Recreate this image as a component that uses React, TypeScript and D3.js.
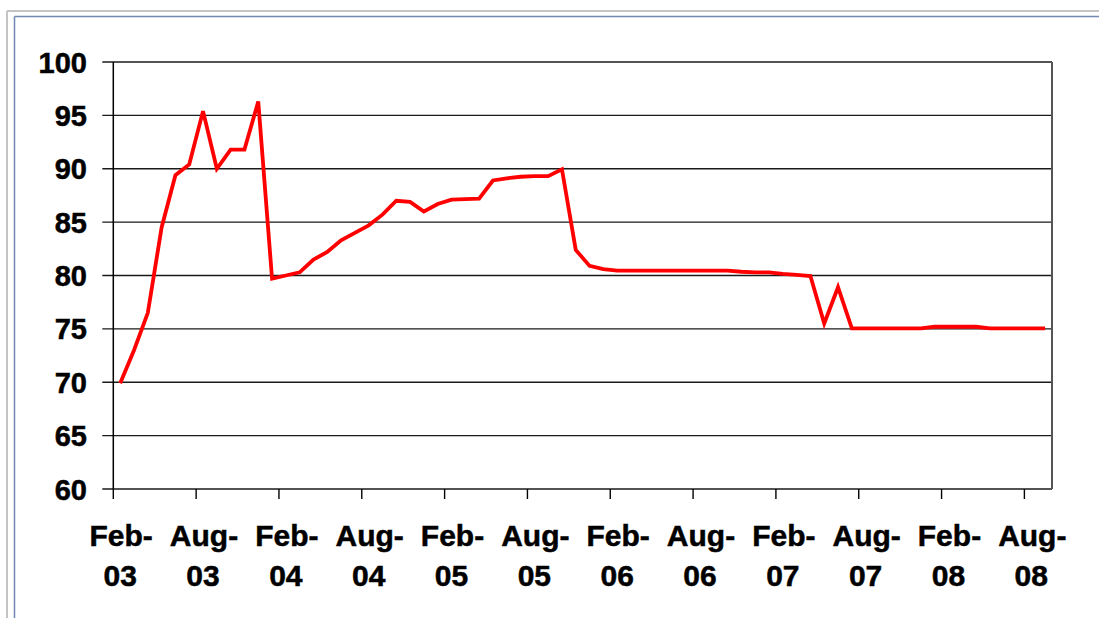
import React from "react";
import * as d3 from "d3";

const categories: string[] = d3
  .timeMonth.range(new Date(2003, 1, 1), new Date(2008, 9, 1))
  .map((d) => d3.timeFormat("%b-%y")(d));

const values: number[] = [
  69.9, 73.0, 76.5, 84.5, 89.4, 90.4, 95.4, 90.0, 91.8, 91.8, 96.3, 79.7,
  80.0, 80.3, 81.5, 82.2, 83.3, 84.0, 84.7, 85.7, 87.0, 86.9, 86.0, 86.7,
  87.1, 87.15, 87.2, 88.9, 89.1, 89.25, 89.3, 89.3, 89.95, 82.4, 80.9, 80.6,
  80.45, 80.45, 80.45, 80.45, 80.45, 80.45, 80.45, 80.45, 80.45, 80.35, 80.3, 80.3,
  80.15, 80.05, 79.95, 75.5, 78.9, 75.05, 75.05, 75.05, 75.05, 75.05, 75.05, 75.2,
  75.2, 75.2, 75.2, 75.05, 75.05, 75.05, 75.05, 75.05,
];

const yTicks: number[] = [60, 65, 70, 75, 80, 85, 90, 95, 100];
const xTickLabels: string[] = [
  "Feb-03", "Aug-03", "Feb-04", "Aug-04", "Feb-05", "Aug-05",
  "Feb-06", "Aug-06", "Feb-07", "Aug-07", "Feb-08", "Aug-08",
];

export default function App() {
  const W = 1099;
  const H = 618;
  const left = 113.3;
  const right = 1052;
  const top = 62;
  const bottom = 489;

  const x = d3.scaleBand<string>().domain(categories).range([left, right]).padding(0);
  const bw = x.bandwidth();
  const y = d3.scaleLinear().domain([60, 100]).range([bottom, top]);

  const line = d3
    .line<number>()
    .x((_, i) => (x(categories[i]) as number) + bw / 2)
    .y((d) => y(d));

  const font = "'Liberation Sans', Arial, sans-serif";

  return (
    <svg
      width={W}
      height={H}
      style={{ position: "absolute", left: 0, top: 0, background: "#fff" }}
    >
      <rect x={0} y={0} width={W} height={H} fill="#fff" />
      {/* outer frame */}
      <line x1={7} y1={11} x2={W} y2={11} stroke="#c4c4c4" strokeWidth={2} />
      <line x1={7} y1={11} x2={7} y2={H} stroke="#c4c4c4" strokeWidth={2} />
      <line x1={14.5} y1={16.5} x2={W} y2={16.5} stroke="#7089b3" strokeWidth={1.5} />
      <line x1={14.5} y1={16.5} x2={14.5} y2={H} stroke="#7089b3" strokeWidth={1.5} />

      {/* gridlines + y ticks */}
      {yTicks.map((t) => (
        <line
          key={"g" + t}
          x1={left - 11}
          x2={right}
          y1={y(t)}
          y2={y(t)}
          stroke="#1a1a1a"
          strokeWidth={1.4}
        />
      ))}
      {/* right border */}
      <line x1={right} x2={right} y1={top} y2={bottom} stroke="#555" strokeWidth={2} />
      {/* y axis */}
      <line x1={left} x2={left} y1={top} y2={bottom + 0.5} stroke="#000" strokeWidth={1.5} />

      {/* x ticks */}
      {xTickLabels.map((lab) => {
        const cx = x(lab) as number;
        return (
          <line key={"t" + lab} x1={cx} x2={cx} y1={bottom} y2={bottom + 10} stroke="#000" strokeWidth={1.4} />
        );
      })}

      {/* y labels */}
      {yTicks.map((t) => (
        <text
          key={"yl" + t}
          x={87}
          y={y(t) + 10.5}
          textAnchor="end"
          fontFamily={font}
          fontWeight="bold"
          fontSize={29}
          fill="#000"
          stroke="#000"
          strokeWidth={0.5}
        >
          {t}
        </text>
      ))}

      {/* x labels */}
      {xTickLabels.map((lab) => {
        const cx = (x(lab) as number) + bw / 2;
        const [m, yr] = lab.split("-");
        return (
          <text
            key={"xl" + lab}
            textAnchor="middle"
            fontFamily={font}
            fontWeight="bold"
            fontSize={30}
            fill="#000"
            stroke="#000"
            strokeWidth={0.5}
          >
            <tspan x={cx + 1} y={546}>{m + "-"}</tspan>
            <tspan x={cx} y={585.5}>{yr}</tspan>
          </text>
        );
      })}

      {/* data line */}
      <path
        d={line(values) || ""}
        fill="none"
        stroke="#ff0000"
        strokeWidth={3.8}
        strokeLinejoin="miter"
      />
    </svg>
  );
}
